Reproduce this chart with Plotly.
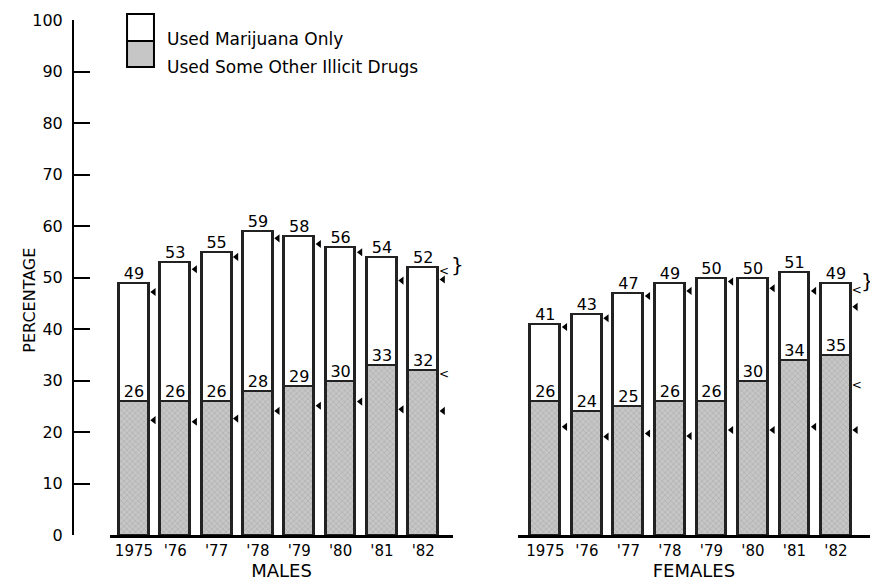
import plotly.graph_objects as go

# valores (porcentaje)
years = ["1975", "'76", "'77", "'78", "'79", "'80", "'81", "'82"]
male_total = [49, 53, 55, 59, 58, 56, 54, 52]
male_other = [26, 26, 26, 28, 29, 30, 33, 32]
female_total = [41, 43, 47, 49, 50, 50, 51, 49]
female_other = [26, 24, 25, 26, 26, 30, 34, 35]

# pequeñas marcas a la derecha de cada barra
male_mark_hi = [47.2, 51.6, 54.0, 57.6, 56.5, 54.9, 49.4, 49.6]
male_mark_lo = [22.3, 22.0, 22.6, 24.1, 25.1, 25.9, 24.4, 24.1]
female_mark_hi = [40.4, 42.1, 46.4, 47.4, 49.2, 47.9, 47.4, 44.3]
female_mark_lo = [21.0, 19.1, 19.7, 19.2, 20.4, 20.4, 21.0, 20.4]
# chevrons "<" del último año
male_chev = [51.1, 31.1]
female_chev = [47.4, 29.0]

FONT = "DejaVu Sans"
GRAY = "#c6c6c6"
BAR_W = 0.72
pos = list(range(len(years)))

fig = go.Figure()


def add_panel(total, other, hi, lo, chev, xa, ya):
    white = [t - o for t, o in zip(total, other)]
    fig.add_trace(go.Bar(x=pos, y=other, width=BAR_W, xaxis=xa, yaxis=ya,
                         marker=dict(color=GRAY, line=dict(color="#222222", width=2.5),
                                     pattern=dict(shape="x", size=4, solidity=0.25,
                                                  fgcolor="#8a8a8a", bgcolor=GRAY))))
    fig.add_trace(go.Bar(x=pos, y=white, width=BAR_W, xaxis=xa, yaxis=ya,
                         marker=dict(color="white", line=dict(color="#222222", width=2.5))))
    fig.add_trace(go.Scatter(x=pos, y=total, mode="text", text=[str(v) for v in total],
                             textposition="top center", xaxis=xa, yaxis=ya,
                             textfont=dict(family=FONT, size=16, color="black")))
    fig.add_trace(go.Scatter(x=pos, y=other, mode="text", text=[str(v) for v in other],
                             textposition="top center", xaxis=xa, yaxis=ya,
                             textfont=dict(family=FONT, size=16, color="black")))
    mx = [p + 0.48 for p in pos]
    fig.add_trace(go.Scatter(x=mx + mx, y=hi + lo, mode="markers", xaxis=xa, yaxis=ya,
                             marker=dict(symbol="triangle-left", size=7, color="black")))
    fig.add_trace(go.Scatter(x=[pos[-1] + 0.5] * len(chev), y=chev, mode="text",
                             text=["<"] * len(chev), xaxis=xa, yaxis=ya,
                             textfont=dict(family=FONT, size=12, color="black")))


add_panel(male_total, male_other, male_mark_hi, male_mark_lo, male_chev, "x", "y")
add_panel(female_total, female_other, female_mark_hi, female_mark_lo, female_chev, "x2", "y2")

# llaves junto al último año
fig.add_annotation(x=7.7, y=male_chev[0] + 1.3, xref="x", yref="y", text="}", showarrow=False,
                   xshift=5, font=dict(family=FONT, size=20, color="black"))
fig.add_annotation(x=7.68, y=female_chev[0] + 2.0, xref="x2", yref="y2", text="}", showarrow=False,
                   xshift=3, font=dict(family=FONT, size=20, color="black"))

axis_x = dict(tickmode="array", tickvals=pos, ticktext=years, ticks="", showline=True,
              linecolor="black", linewidth=2.5, showgrid=False, zeroline=False, automargin=False,
              tickfont=dict(family=FONT, size=15, color="black"),
              title=dict(font=dict(family=FONT, size=18, color="black"), standoff=0))

fig.update_layout(
    width=870, height=583,
    margin=dict(l=73, r=0, t=20, b=48, autoexpand=False),
    plot_bgcolor="white", paper_bgcolor="white",
    barmode="stack", bargap=0, showlegend=False,
    xaxis=dict(axis_x, domain=[0.0464, 0.4768], range=[-0.58, 7.72], anchor="y",
               title_text="MALES"),
    xaxis2=dict(axis_x, domain=[0.5583, 1.0], range=[-0.66, 7.82], anchor="y2",
                title_text="FEMALES"),
    yaxis=dict(range=[0, 100], anchor="free", position=0, tickvals=list(range(0, 101, 10)),
               ticks="inside", ticklen=16, tickwidth=2, tickcolor="black", automargin=False,
               showline=True, linecolor="black", linewidth=2, showgrid=False, zeroline=False,
               tickfont=dict(family=FONT, size=16, color="black"), ticklabelstandoff=6),
    yaxis2=dict(range=[0, 100], anchor="x2", visible=False),
)

fig.add_annotation(x=-0.069, y=0.456, xref="paper", yref="paper", text="PERCENTAGE",
                   textangle=-90, showarrow=False, font=dict(family=FONT, size=16, color="black"))

# leyenda dibujada a mano
fig.add_shape(type="rect", xref="paper", yref="paper", x0=0.0678, x1=0.1016, y0=0.959, y1=1.0117,
              line=dict(color="black", width=2), fillcolor="white")
fig.add_shape(type="rect", xref="paper", yref="paper", x0=0.0678, x1=0.1016, y0=0.9087, y1=0.959,
              line=dict(color="black", width=2), fillcolor=GRAY)
fig.add_annotation(x=0.1154, y=0.9864, xref="paper", yref="paper", text="Used Marijuana Only",
                   xanchor="left", showarrow=False, font=dict(family=FONT, size=17, color="black"))
fig.add_annotation(x=0.1154, y=0.932, xref="paper", yref="paper", text="Used Some Other Illicit Drugs",
                   xanchor="left", showarrow=False, font=dict(family=FONT, size=17, color="black"))

# sin margen en <body> para que la figura ocupe justo la ventana; sin barra de herramientas
fig.write_html("out.html", config={"displayModeBar": False},
               post_script="document.body.style.margin='0';")
